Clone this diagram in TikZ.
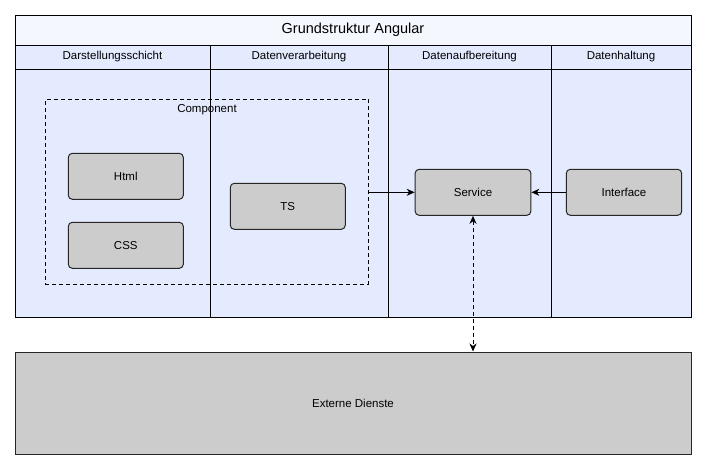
\documentclass[tikz,border=0pt]{standalone}
\usepackage{fontspec}
\setmainfont{Liberation Sans}
\usetikzlibrary{arrows.meta}
\definecolor{laneTitle}{HTML}{F5F7FF}
\definecolor{laneBody}{HTML}{E5EBFF}
\definecolor{boxGray}{HTML}{CCCCCC}
\begin{document}
\begin{tikzpicture}[x=1pt,y=-1pt,line width=1pt,
  graybox/.style={draw=black!85,fill=boxGray,rounded corners=4pt,minimum width=115pt,minimum height=46pt,inner sep=0pt,font=\fontsize{11.5}{13}\selectfont},
  lbl/.style={inner sep=0pt,font=\fontsize{11.5}{13}\selectfont},
  arr/.style={-{Stealth[length=8pt,width=7pt,inset=2.5pt]}},
  dashline/.style={dash pattern=on 4pt off 3pt}]
\useasboundingbox (0,0) rectangle (707,469);
% swimlane pool
\fill[laneBody] (15,45) rectangle (691,317);
\fill[laneTitle] (15,15) rectangle (691,45);
\draw (15,15) rectangle (691,317);
\draw (15,45) -- (691,45);
\draw (15,69) -- (691,69);
\draw (210,45) -- (210,317);
\draw (388,45) -- (388,317);
\draw (551,45) -- (551,317);
\node[inner sep=0pt,font=\fontsize{14.5}{16}\selectfont] (title) at (353,30) {Grundstruktur Angular};
\node[lbl] (h1) at (112.5,57) {Darstellungsschicht};
\node[lbl] (h2) at (299,57) {Datenverarbeitung};
\node[lbl] (h3) at (469.5,57) {Datenaufbereitung};
\node[lbl] (h4) at (621,57) {Datenhaltung};
% component
\node[draw,dashline,minimum width=323.4pt,minimum height=184.7pt,inner sep=0pt] (comp) at (207,191.7) {};
\node[lbl] (complbl) at (207,110) {Component};
\node[graybox] (html) at (125.8,176.3) {Html};
\node[graybox] (css) at (125.8,245.3) {CSS};
\node[graybox] (ts) at (287.8,206.3) {TS};
\node[graybox,minimum width=115.7pt] (serv) at (473,192.3) {Service};
\node[graybox,minimum width=115.4pt] (intf) at (624,192.3) {Interface};
\node[draw=black!85,fill=boxGray,minimum width=676pt,minimum height=102pt,inner sep=0pt,font=\fontsize{11.5}{13}\selectfont] (ext) at (353,403) {Externe Dienste};
% connectors
\draw[arr] (comp.east |- serv.west) -- (serv.west);
\draw[arr] (intf.west) -- (serv.east);
\draw[dashline,{Stealth[length=8pt,width=7pt,inset=2.5pt]}-{Stealth[length=8pt,width=7pt,inset=2.5pt]}] (serv.south) -- (serv.south |- ext.north);
\end{tikzpicture}
\end{document}
